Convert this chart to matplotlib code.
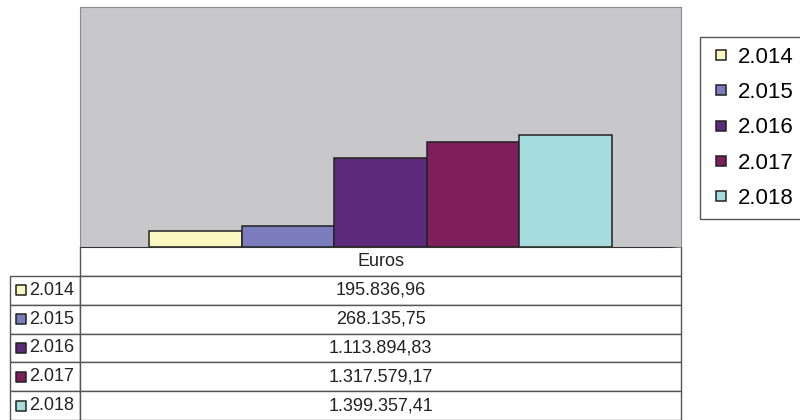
# 导入 pyplot 模块
from matplotlib import pyplot as plt
from matplotlib.lines import Line2D

# 设置字体
plt.rcParams['font.family'] = ['Liberation Sans', 'DejaVu Sans']

# 数据
years = ['2.014', '2.015', '2.016', '2.017', '2.018']
euros = [195836.96, 268135.75, 1113894.83, 1317579.17, 1399357.41]
category = 'Euros'
colors = ['#FBF7C0', '#7B7CBD', '#5E2A7B', '#7E1F5B', '#A5DCDE']


def fmt_eur(v):
    # 欧洲格式：千位用点，小数用逗号
    s = '{:,.2f}'.format(v)
    return s.replace(',', '#').replace('.', ',').replace('#', '.')


# 生成画布 800x420
fig = plt.figure(figsize=(8, 4.2), dpi=100)

# 柱状图区域
ax = fig.add_axes([80 / 800, 1 - 247 / 420, 601 / 800, 240 / 420])
ax.set_facecolor('#C8C8CA')
width = 0.154
for i, (y, v) in enumerate(zip(years, euros)):
    ax.bar((i - 2) * width, v, width=width, color=colors[i],
           edgecolor='#222222', linewidth=1.1, label=y)
ax.set_xlim(-0.5, 0.5)
ax.set_ylim(0, 3.0e6)
ax.set_xticks([])
ax.set_yticks([])
for side in ['left', 'top', 'right']:
    ax.spines[side].set_color('#8C8C8C')
ax.spines['bottom'].set_color('#333333')

# 图例
handles = [Line2D([], [], linestyle='none', marker='s', markersize=6.5,
                  markerfacecolor=c, markeredgecolor='#222222',
                  markeredgewidth=1.1) for c in colors]
fig.legend(handles, years, loc='upper left',
           bbox_to_anchor=(700 / 800, 1 - 37 / 420), borderaxespad=0,
           fontsize=16, frameon=True, fancybox=False, edgecolor='#555555',
           framealpha=1, borderpad=0.45, handlelength=1.0,
           handletextpad=0.25, labelspacing=0.64)

# 数据表
ax_tab = fig.add_axes([10 / 800, 0, 671 / 800, 173 / 420])
ax_tab.set_xlim(0, 1)
ax_tab.set_ylim(0, 1)
ax_tab.axis('off')
cell_text = [[y, fmt_eur(v)] for y, v in zip(years, euros)]
tab = ax_tab.table(cellText=cell_text, colLabels=['', category],
                   colWidths=[70 / 671, 601 / 671], cellLoc='center',
                   bbox=[0, 0, 1, 1])
tab.auto_set_font_size(False)
tab.set_fontsize(13)
for (r, c), cell in tab.get_celld().items():
    cell.set_edgecolor('#555555')
    cell.set_linewidth(1.0)
    cell.get_text().set_color('#222222')
    if r == 0 and c == 0:
        cell.visible_edges = ''
    if r == 0 and c == 1:
        cell.visible_edges = 'BLR'
    if r > 0 and c == 0:
        cell.get_text().set_horizontalalignment('left')
        cell.PAD = 0.27

# 表格中的颜色方块
n_rows = len(years) + 1
for i, c in enumerate(colors):
    ax_tab.scatter([11 / 671], [1 - (i + 1.5) / n_rows], marker='s', s=55,
                   color=c, edgecolors='#222222', linewidths=1.1,
                   zorder=5, clip_on=False)

plt.savefig('out.png', dpi=100)
